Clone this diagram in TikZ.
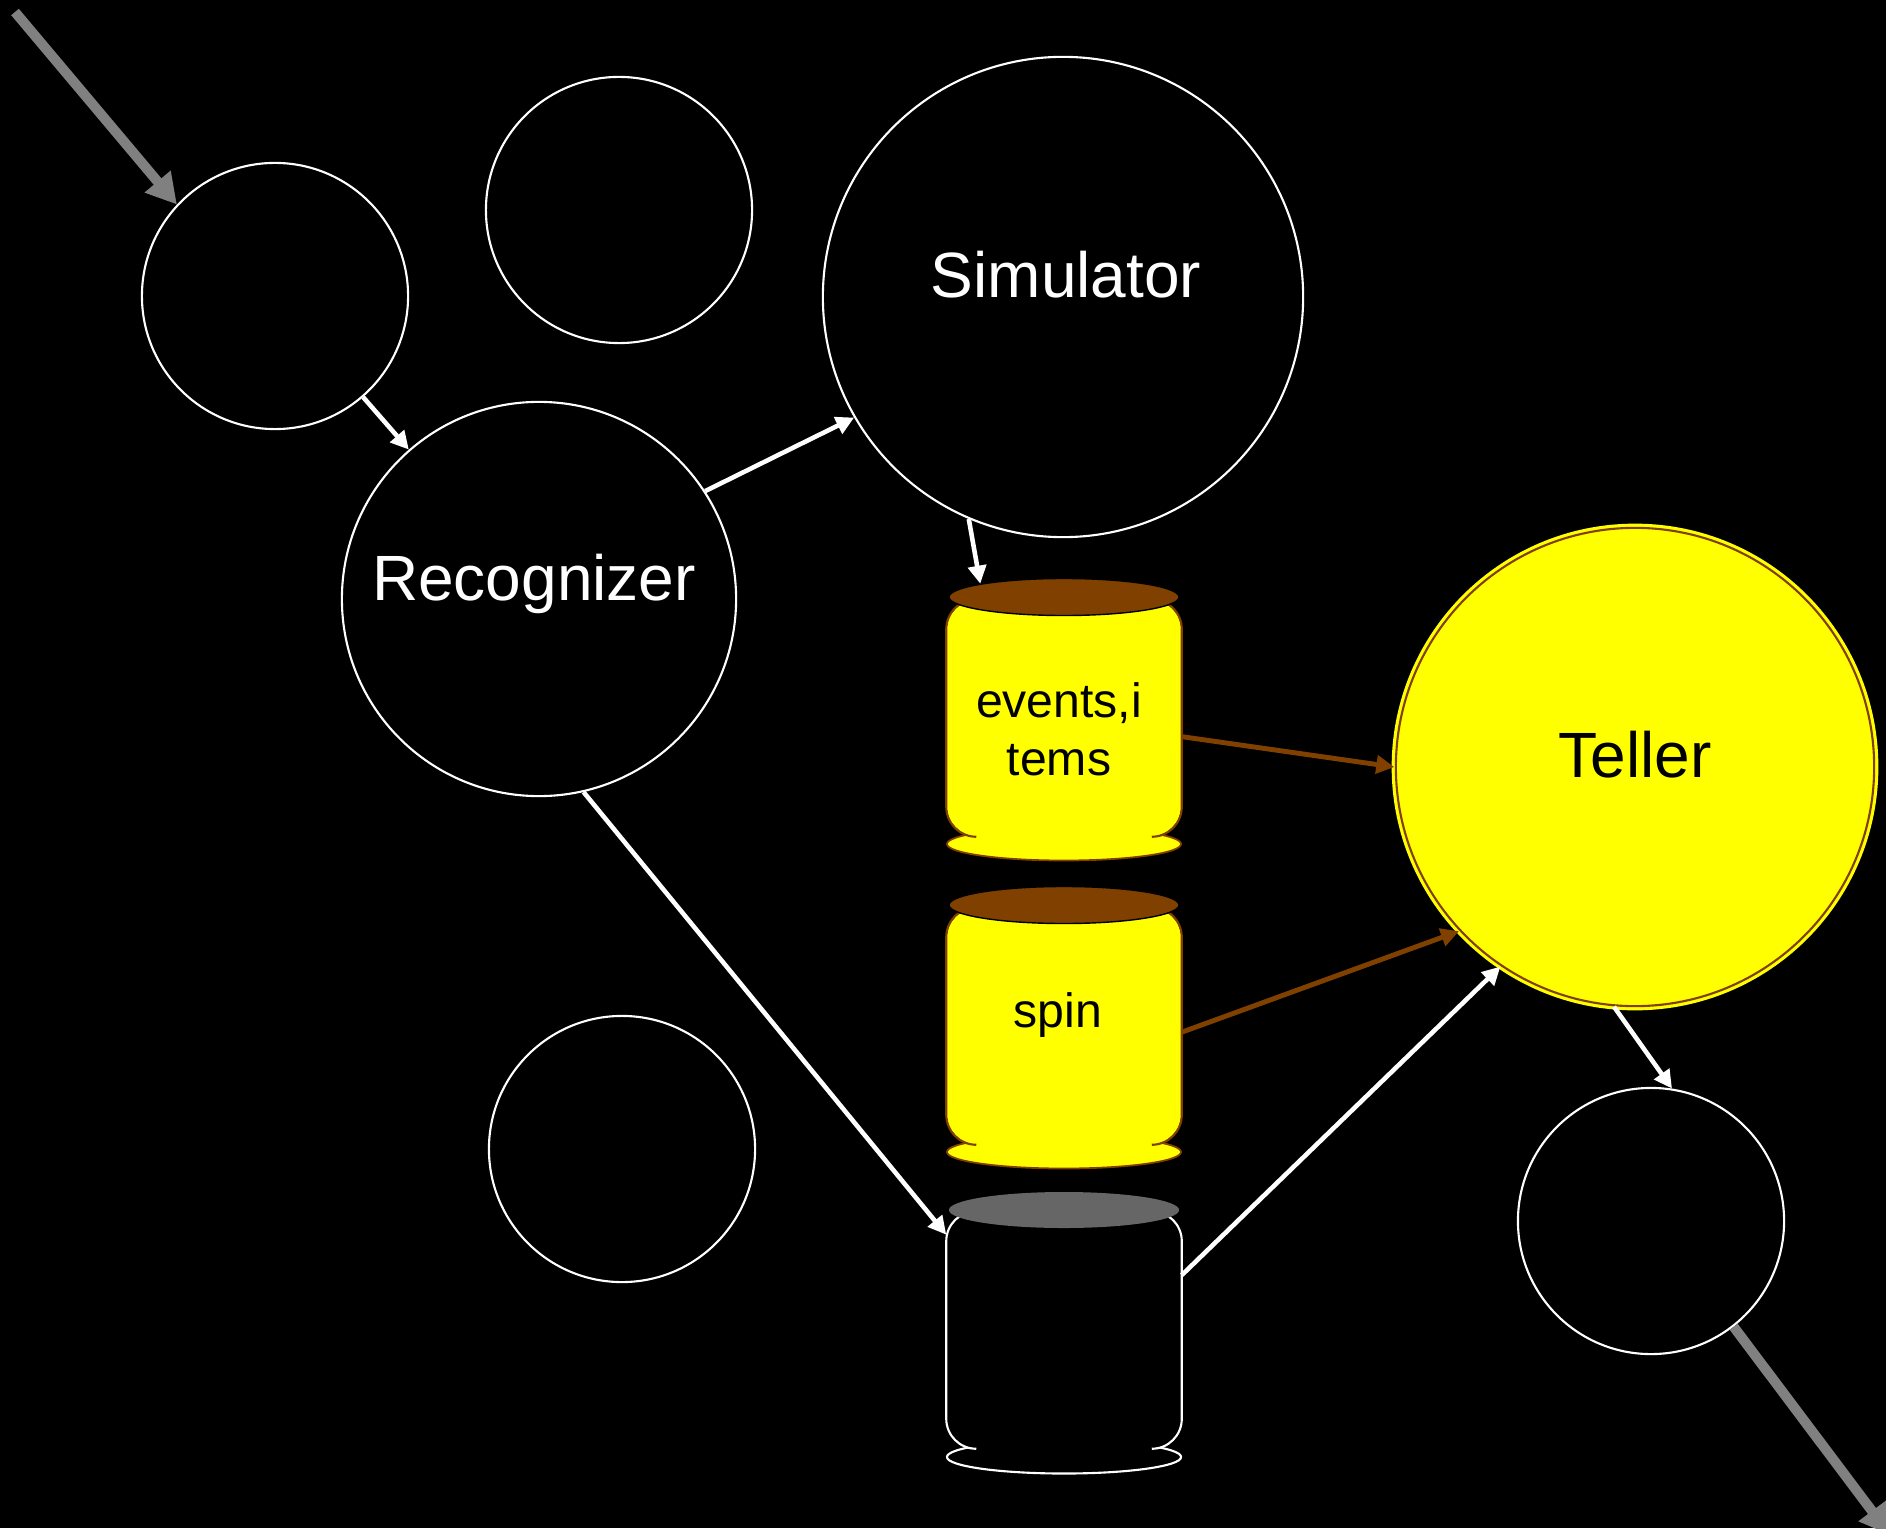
\documentclass[tikz,border=0pt]{standalone}
\usepackage{fontspec}
\setmainfont{Liberation Sans}
\usetikzlibrary{shapes.geometric,arrows.meta}
\definecolor{canBrown}{RGB}{128,64,0}
\definecolor{flowGray}{RGB}{128,128,128}
\definecolor{lidGray}{RGB}{102,102,102}
\definecolor{tellerYellow}{RGB}{255,255,0}

\begin{document}
\begin{tikzpicture}[x=0.01cm,y=-0.01cm,
  proc/.style={circle,draw=white,line width=0.6pt,inner sep=0pt,minimum size=2.66cm},
  big/.style={font=\fontsize{18.2}{22}\selectfont},
  small/.style={font=\fontsize{13.7}{16.4}\selectfont},
  canbody/.style={rectangle,rounded corners=3mm,minimum width=2.34cm,minimum height=2.36cm,inner sep=0pt},
  canlid/.style={ellipse,minimum width=2.30cm,minimum height=0.37cm,inner sep=0pt},
  canbase/.style={ellipse,minimum width=2.34cm,minimum height=0.33cm,inner sep=0pt},
  flow/.style={white,line width=1.3pt,-{Triangle[length=1.8mm,width=1.8mm]}},
  feed/.style={canBrown,line width=1.4pt,-{Triangle[length=1.8mm,width=1.8mm]}},
  ext/.style={flowGray,line width=1mm,-{Triangle[length=3mm,width=3.2mm]}}]

  \fill[black] (0,0) rectangle (1886,1528);
  \useasboundingbox (0,0) rectangle (1886,1528);

  % processes
  \node[proc] (inA)   at (275,296)  {};
  \node[proc] (idleB) at (619,210)  {};
  \node[proc] (idleC) at (622,1149) {};
  \node[proc] (outD)  at (1651,1221) {};
  \node[proc,minimum size=3.94cm,
        label={[big,text=white,xshift=-0.5mm,yshift=1.5mm]center:Recognizer}] (rec) at (539,599) {};
  \node[proc,minimum size=4.8cm,
        label={[big,text=white,xshift=0.3mm,yshift=2.2mm]center:Simulator}] (sim) at (1063,297) {};
  \node[circle,fill=tellerYellow,draw=tellerYellow,double=canBrown,double distance=0.6pt,
        line width=0.9pt,inner sep=0pt,minimum size=4.78cm,
        label={[big,yshift=1.2mm]center:Teller}] (teller) at (1635,767) {};

  % stores
  \node[canbase,fill=tellerYellow,draw=canBrown,line width=0.5pt] (evbase) at (1064,844)  {};
  \node[canbase,fill=tellerYellow,draw=canBrown,line width=0.5pt] (spbase) at (1064,1152) {};
  \node[canbase,fill=black,draw=white,line width=0.6pt]           (dbbase) at (1064,1457) {};

  \node[canbody,fill=tellerYellow,
        label={[small,align=center,xshift=-0.5mm,yshift=-1.1mm]center:{events,i\\tems}}] (evbody) at (1064,718) {};
  \node[canbody,fill=tellerYellow,
        label={[small,xshift=-0.6mm,yshift=1.1mm]center:spin}] (spbody) at (1064,1026) {};
  \node[canbody,fill=black] (dbbody) at (1064,1330) {};

  \foreach \b/\c in {evbody/canBrown,spbody/canBrown,dbbody/white}
    \draw[\c,line width=0.6pt,rounded corners=3mm]
      ([xshift=3mm]\b.south west) -- (\b.south west) -- (\b.north west)
      -- (\b.north east) -- (\b.south east) -- ([xshift=-3mm]\b.south east);

  \node[canlid,fill=canBrown,draw=black,line width=0.4pt] (evlid) at (1064,597)  {};
  \node[canlid,fill=canBrown,draw=black,line width=0.4pt] (splid) at (1064,905)  {};
  \node[canlid,fill=lidGray,minimum height=0.36cm]        (dblid) at (1064,1210) {};

  % flows
  \coordinate (src)  at (15,12);
  \coordinate (sink) at (1890,1535);
  \draw[ext] (src) -- (inA.137);
  \draw[ext] (outD.-52) -- (sink);

  \draw[flow] (inA) -- (rec);
  \draw[flow] (rec.33) -- (sim.210);
  \draw[flow] (sim.247) -- (evlid.171);
  \draw[flow] (rec.-77) -- (dbbody.141);
  \draw[flow] (dbbody.25) -- (teller.236);
  \draw[flow] (teller.265) -- (outD.81);
  \draw[feed] (evbody.-9) -- (teller.west);
  \draw[feed] (spbody.-3) -- (teller.223);
\end{tikzpicture}
\end{document}
